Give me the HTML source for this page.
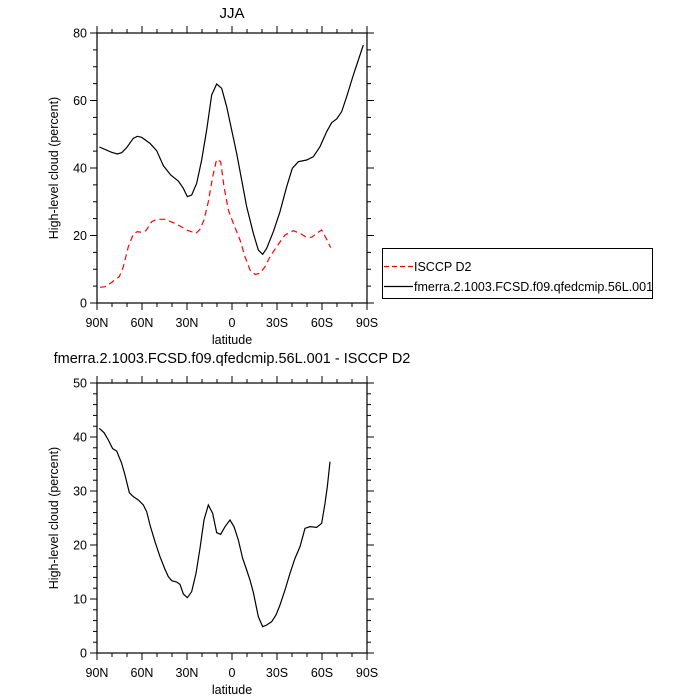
<!DOCTYPE html>
<html><head><meta charset="utf-8"><style>body{margin:0;background:#fff}svg{display:block}text{font-family:"Liberation Sans",sans-serif}</style></head>
<body>
<svg id="s" width="700" height="700" viewBox="0 0 700 700" xmlns="http://www.w3.org/2000/svg">
<text x="232" y="18" font-size="15" text-anchor="middle">JJA</text>
<text x="232" y="363" font-size="14.5" text-anchor="middle">fmerra.2.1003.FCSD.f09.qfedcmip.56L.001 - ISCCP D2</text>
<g id="ax"></g>
<g transform="translate(40,20) scale(0.33333)" fill="none">
<polyline stroke="#000" stroke-width="1.2" vector-effect="non-scaling-stroke" points="178,381 215,397 232,402 245,398 260,383 280,355 292,349 305,352 330,370 350,392 370,437 392,465 415,483 430,505 442,530 455,525 470,490 485,420 500,330 515,225 530,192 545,205 560,260 575,330 590,400 605,480 620,560 640,640 655,690 668,703 680,685 700,635 720,575 740,500 757,445 775,425 800,420 820,410 840,380 860,335 875,308 890,297 905,275 920,230 940,165 970,75"/>
<polyline stroke="#f00" stroke-width="1.2" stroke-dasharray="6 4" vector-effect="non-scaling-stroke" points="180,802 195,800 215,787 238,770 250,740 265,680 280,642 292,635 305,637 318,632 335,605 350,598 375,598 400,608 420,618 440,630 468,640 480,628 492,600 505,545 518,470 530,418 542,425 552,500 565,570 580,610 600,660 615,710 630,750 645,763 660,760 675,740 690,710 710,680 735,645 760,632 780,640 800,652 815,652 830,640 845,630 860,658 872,683"/>
</g>
<g transform="translate(40,370) scale(0.33333)" fill="none">
<polyline stroke="#000" stroke-width="1.2" vector-effect="non-scaling-stroke" points="178,175 192,188 205,210 218,236 230,243 245,280 255,315 268,368 280,380 295,390 310,405 320,425 330,465 345,515 360,560 375,598 385,620 395,632 410,636 420,643 430,672 442,683 455,665 468,610 480,535 492,450 505,405 518,430 530,488 542,493 555,470 570,450 582,470 595,510 608,565 620,600 630,630 640,667 655,740 668,770 680,765 695,755 708,735 720,705 735,660 750,610 765,565 780,530 795,475 810,470 830,472 845,460 855,400 862,350 870,275"/>
</g>
<rect x="382.5" y="248.5" width="270" height="50" fill="none" stroke="#000" stroke-width="1"/>
<line x1="384" y1="266.5" x2="413" y2="266.5" stroke="#f00" stroke-width="1.2" stroke-dasharray="5 3"/>
<line x1="384" y1="286.5" x2="413" y2="286.5" stroke="#000" stroke-width="1.2"/>
<text x="414" y="271" font-size="12.5">ISCCP D2</text>
<text x="414" y="291" font-size="12.5">fmerra.2.1003.FCSD.f09.qfedcmip.56L.001</text>
</svg>
<script>
var g=document.getElementById('ax'),h='';
function ax(top,bot,ymax,ymaj,ymin){
 var L=97,R=367;
 h+='<rect x="'+L+'" y="'+top+'" width="'+(R-L)+'" height="'+(bot-top)+'" fill="none" stroke="#000" stroke-width="1.2"/>';
 var labs=['90N','60N','30N','0','30S','60S','90S'];
 for(var d=0;d<=180;d+=10){var x=L+d*1.5,maj=d%30==0,l=maj?7:4;
  h+='<line x1="'+x+'" y1="'+bot+'" x2="'+x+'" y2="'+(bot+l)+'" stroke="#000"/>';
  h+='<line x1="'+x+'" y1="'+top+'" x2="'+x+'" y2="'+(top-l)+'" stroke="#000"/>';
  if(maj)h+='<text x="'+x+'" y="'+(bot+24)+'" font-size="12.5" text-anchor="middle">'+labs[d/30]+'</text>';}
 h+='<text x="232" y="'+(bot+41)+'" font-size="12.5" text-anchor="middle">latitude</text>';
 for(var v=0;v<=ymax+1e-6;v+=ymin){var y=bot-(v/ymax)*(bot-top),maj=Math.abs(v/ymaj-Math.round(v/ymaj))<1e-6,l=maj?7:4;
  h+='<line x1="'+L+'" y1="'+y+'" x2="'+(L-l)+'" y2="'+y+'" stroke="#000"/>';
  h+='<line x1="'+R+'" y1="'+y+'" x2="'+(R+l)+'" y2="'+y+'" stroke="#000"/>';
  if(maj)h+='<text x="'+(L-10)+'" y="'+(y+4.5)+'" font-size="12.5" text-anchor="end">'+Math.round(v)+'</text>';}
 var cy=(top+bot)/2;
 h+='<text x="58" y="'+cy+'" font-size="12.5" text-anchor="middle" transform="rotate(-90 58 '+cy+')">High-level cloud (percent)</text>';
}
ax(33,303,80,20,5);ax(383,653,50,10,2);
g.innerHTML=h;
</script>
</body></html>
